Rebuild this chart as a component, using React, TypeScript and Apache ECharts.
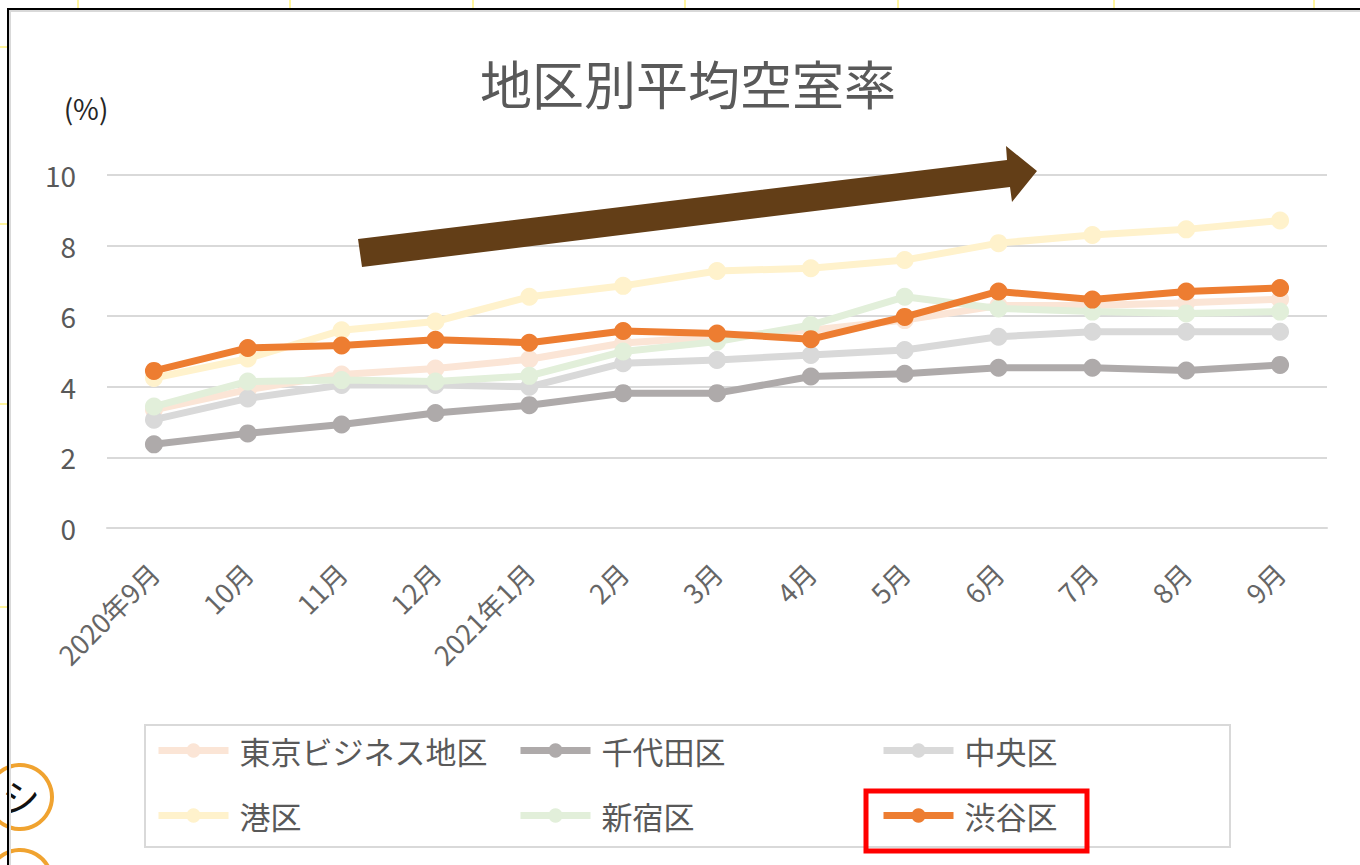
import React, { useEffect, useRef } from "react";
import * as echarts from "echarts";

const categories = ["2020年9月", "10月", "11月", "12月", "2021年1月", "2月", "3月", "4月", "5月", "6月", "7月", "8月", "9月"];
const yTicks = [0, 2, 4, 6, 8, 10];

const tokyoBusiness = [3.35, 3.92, 4.35, 4.52, 4.78, 5.24, 5.42, 5.6, 5.89, 6.3, 6.3, 6.38, 6.48];
const chiyoda = [2.37, 2.68, 2.93, 3.26, 3.48, 3.82, 3.82, 4.29, 4.37, 4.54, 4.54, 4.46, 4.62];
const chuo = [3.07, 3.67, 4.05, 4.05, 4.0, 4.67, 4.76, 4.9, 5.04, 5.42, 5.56, 5.56, 5.56];
const minato = [4.25, 4.8, 5.6, 5.85, 6.55, 6.86, 7.28, 7.36, 7.59, 8.07, 8.3, 8.46, 8.71];
const shinjuku = [3.44, 4.15, 4.19, 4.15, 4.31, 5.0, 5.28, 5.75, 6.55, 6.22, 6.13, 6.08, 6.13];
const shibuya = [4.45, 5.1, 5.17, 5.33, 5.25, 5.58, 5.51, 5.35, 5.98, 6.7, 6.47, 6.7, 6.8];

const seriesNames = ["東京ビジネス地区", "千代田区", "中央区", "港区", "新宿区", "渋谷区"];
const seriesData = [tokyoBusiness, chiyoda, chuo, minato, shinjuku, shibuya];
const seriesColors = ["#FBE5D6", "#AEAAAA", "#D9D9D9", "#FFF2CC", "#E2EFDA", "#ED7D31"];

const FONT = "'Noto Sans CJK JP', 'Noto Sans', sans-serif";

export default function App() {
  const ref = useRef<HTMLDivElement>(null);
  useEffect(() => {
    if (!ref.current) return;
    const chart = echarts.init(ref.current, null, { renderer: "svg" });

    const legendPos = [
      [155, 735],
      [517, 735],
      [880, 735],
      [155, 800],
      [517, 800],
      [880, 800],
    ];

    const option: any = {
      animation: false,
      backgroundColor: "#ffffff",
      textStyle: { fontFamily: FONT },
      grid: { left: 107, right: 33, top: 175, bottom: 337, containLabel: false },
      legend: seriesNames.map((n, i) => ({
        data: [n],
        left: legendPos[i][0],
        top: legendPos[i][1],
        padding: 0,
        itemWidth: 70,
        itemHeight: 18,
        selectedMode: false,
        lineStyle: { width: 7 },
        textStyle: { fontSize: 31, color: "#595959", fontFamily: FONT, padding: [0, 0, 0, 6] },
      })),
      xAxis: {
        type: "category",
        data: categories,
        boundaryGap: true,
        axisLine: { show: true, lineStyle: { color: "#D9D9D9", width: 2 } },
        axisTick: { show: false },
        axisLabel: {
          interval: 0,
          rotate: 45,
          margin: 40,
          fontSize: 27,
          color: "#666666",
          fontFamily: FONT,
        },
      },
      yAxis: {
        type: "value",
        min: yTicks[0],
        max: yTicks[yTicks.length - 1],
        interval: 2,
        axisLine: { show: false },
        axisTick: { show: false },
        splitLine: { lineStyle: { color: "#D9D9D9", width: 2 } },
        axisLabel: { fontSize: 28, color: "#595959", margin: 31, fontFamily: FONT },
      },
      series: seriesNames.map((n, i) => ({
        name: n,
        type: "line",
        data: seriesData[i],
        symbol: "circle",
        symbolSize: 18,
        lineStyle: { width: 7, color: seriesColors[i] },
        itemStyle: { color: seriesColors[i] },
        z: 2 + i,
      })),
      graphic: [
        {
          type: "text",
          x: 688,
          y: 82,
          style: {
            text: "地区別平均空室率",
            fontSize: 52,
            fontFamily: FONT,
            fill: "#595959",
            textAlign: "center",
            textVerticalAlign: "middle",
          },
        },
        {
          type: "text",
          x: 86,
          y: 108,
          style: {
            text: "(%)",
            fontSize: 28,
            fontFamily: FONT,
            fill: "#262626",
            textAlign: "center",
            textVerticalAlign: "middle",
          },
        },
        {
          type: "polygon",
          z: 100,
          shape: {
            points: [
              [358, 239],
              [1007, 160],
              [1006, 146],
              [1037, 171],
              [1012, 202],
              [1010, 187],
              [362, 267],
            ],
          },
          style: { fill: "#633E17" },
        },
        {
          type: "rect",
          z: 90,
          shape: { x: 145, y: 725, width: 1085, height: 122 },
          style: { fill: "none", stroke: "#D9D9D9", lineWidth: 2 },
        },
        {
          type: "rect",
          z: 100,
          shape: { x: 866, y: 791, width: 221, height: 60 },
          style: { fill: "none", stroke: "#FF0000", lineWidth: 5 },
        },
        ...[78, 290, 473, 685, 898, 1114, 1314].map((x) => ({
          type: "line",
          z: 100,
          shape: { x1: x, y1: 0, x2: x, y2: 8 },
          style: { stroke: "#FFF59D", lineWidth: 2 },
        })),
        ...[47, 224, 404, 607].map((y) => ({
          type: "line",
          z: 100,
          shape: { x1: 0, y1: y, x2: 7, y2: y },
          style: { stroke: "#FFF59D", lineWidth: 2 },
        })),
        {
          type: "circle",
          z: 110,
          shape: { cx: 20, cy: 797, r: 32 },
          style: { fill: "#ffffff", stroke: "#F0A330", lineWidth: 4 },
        },
        {
          type: "circle",
          z: 110,
          shape: { cx: 20, cy: 882, r: 32 },
          style: { fill: "#ffffff", stroke: "#F0A330", lineWidth: 4 },
        },
        {
          type: "text",
          z: 111,
          x: 21,
          y: 795,
          style: {
            text: "シ",
            fontSize: 38,
            fontFamily: FONT,
            fill: "#111111",
            textAlign: "center",
            textVerticalAlign: "middle",
          },
        },
        {
          type: "line",
          z: 120,
          shape: { x1: 8, y1: 9, x2: 1360, y2: 9 },
          style: { stroke: "#000000", lineWidth: 2 },
        },
        {
          type: "line",
          z: 120,
          shape: { x1: 8, y1: 11, x2: 1360, y2: 11 },
          style: { stroke: "#D9D9D9", lineWidth: 2 },
        },
        {
          type: "line",
          z: 120,
          shape: { x1: 8, y1: 8, x2: 8, y2: 865 },
          style: { stroke: "#000000", lineWidth: 2 },
        },
        {
          type: "line",
          z: 120,
          shape: { x1: 10, y1: 12, x2: 10, y2: 865 },
          style: { stroke: "#D9D9D9", lineWidth: 2 },
        },
      ],
    };

    chart.setOption(option);
    return () => chart.dispose();
  }, []);

  return (
    <div
      ref={ref}
      style={{ position: "fixed", left: 0, top: 0, width: 1360, height: 865, background: "#fff" }}
    />
  );
}
